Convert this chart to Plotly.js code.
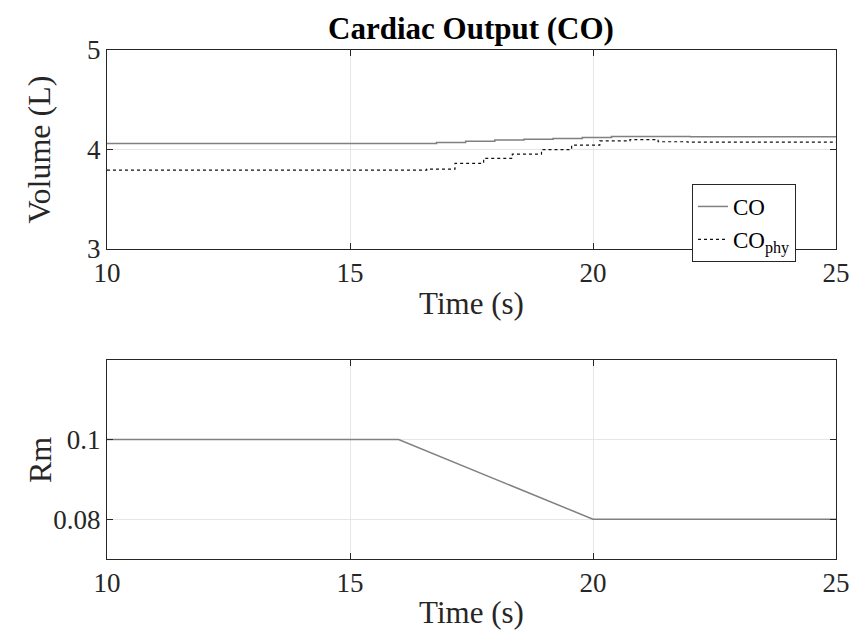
<!DOCTYPE html>
<html>
<head>
<meta charset="utf-8">
<script src="https://cdn.plot.ly/plotly-3.0.1.min.js"></script>
<style>html,body{margin:0;padding:0;background:#fff;}#chart{width:852px;height:637px;}</style>
</head>
<body>
<div id="chart"></div>
<script>
// Cardiac output (step traces)
const tCO = [10, 16.78, 17.38, 17.98, 18.58, 19.18, 19.78, 20.38, 22.0, 25];
const vCO = [4.060, 4.070, 4.083, 4.096, 4.103, 4.111, 4.121, 4.131, 4.128, 4.126];
const tCOphy = [10, 16.58, 17.16, 17.75, 18.34, 18.94, 19.56, 20.14, 20.76, 21.34, 21.95, 25];
const vCOphy = [3.792, 3.802, 3.861, 3.910, 3.953, 3.998, 4.043, 4.086, 4.100, 4.078, 4.075, 4.075];
// Rm
const tRm = [10, 16, 20, 25];
const vRm = [0.1, 0.1, 0.08, 0.08];

const xTicks = [10, 15, 20, 25];
const yTicksTop = [3, 4, 5];
const yTicksBot = [0.08, 0.1];
const yTickTextBot = ['0.08', '0.1'];

const FONT = '"Liberation Serif", "Times New Roman", serif';
const axisCommon = {
  showline: true, mirror: 'ticks', linecolor: '#262626', linewidth: 1,
  ticks: 'inside', ticklen: 6, tickcolor: '#262626', tickwidth: 1,
  showgrid: true, gridcolor: '#e6e6e6', gridwidth: 1, zeroline: false,
  tickfont: {family: FONT, size: 27, color: '#262626'}
};

const traces = [
  {x: tCO, y: vCO, name: 'CO', type: 'scatter', mode: 'lines',
   line: {shape: 'hv', color: '#808080', width: 1.5}, xaxis: 'x', yaxis: 'y'},
  {x: tCOphy, y: vCOphy, name: 'CO<sub>phy</sub>', type: 'scatter', mode: 'lines',
   line: {shape: 'hv', color: '#111111', width: 1.2, dash: 'dot'}, xaxis: 'x', yaxis: 'y'},
  {x: tRm, y: vRm, name: 'Rm', type: 'scatter', mode: 'lines', showlegend: false,
   line: {color: '#808080', width: 1.5}, xaxis: 'x2', yaxis: 'y2'}
];

const layout = {
  width: 852, height: 637,
  margin: {l: 0, r: 0, t: 0, b: 0},
  paper_bgcolor: '#fff', plot_bgcolor: '#fff',
  font: {family: FONT, color: '#262626'},
  showlegend: true,
  title: {text: '<b>Cardiac Output (CO)</b>', font: {family: FONT, size: 31, color: '#000'},
          x: 471/852, xanchor: 'center', y: (637-28)/637, yanchor: 'middle'},
  xaxis: Object.assign({}, axisCommon, {
    domain: [107/852, 836/852], range: [10, 25], tickvals: xTicks, anchor: 'y',
    title: {text: 'Time (s)', font: {family: FONT, size: 31, color: '#262626'}, standoff: 4}
  }),
  yaxis: Object.assign({}, axisCommon, {
    domain: [(637-249)/637, (637-50)/637], range: [3, 5], tickvals: yTicksTop, anchor: 'x',
    title: {text: 'Volume (L)', font: {family: FONT, size: 32, color: '#262626'}, standoff: 26}
  }),
  xaxis2: Object.assign({}, axisCommon, {
    domain: [107/852, 836/852], range: [10, 25], tickvals: xTicks, anchor: 'y2',
    title: {text: 'Time (s)', font: {family: FONT, size: 31, color: '#262626'}, standoff: 3}
  }),
  yaxis2: Object.assign({}, axisCommon, {
    domain: [(637-559)/637, (637-360)/637], range: [0.07, 0.12], tickvals: yTicksBot, ticktext: yTickTextBot,
    anchor: 'x2'
  }),
  annotations: [
    {text: 'Rm', xref: 'paper', yref: 'paper', x: 40/852, y: (637-460)/637,
     xanchor: 'center', yanchor: 'middle', textangle: -90, showarrow: false,
     font: {family: FONT, size: 32, color: '#262626'}}
  ],
  legend: {
    x: 692/852, y: (637-184)/637, xanchor: 'left', yanchor: 'top',
    bgcolor: '#ffffff', bordercolor: '#262626', borderwidth: 1,
    font: {family: FONT, size: 23, color: '#000'},
    itemwidth: 30, tracegroupgap: 0
  }
};

Plotly.newPlot('chart', traces, layout, {displayModeBar: false, staticPlot: true});
</script>
</body>
</html>
